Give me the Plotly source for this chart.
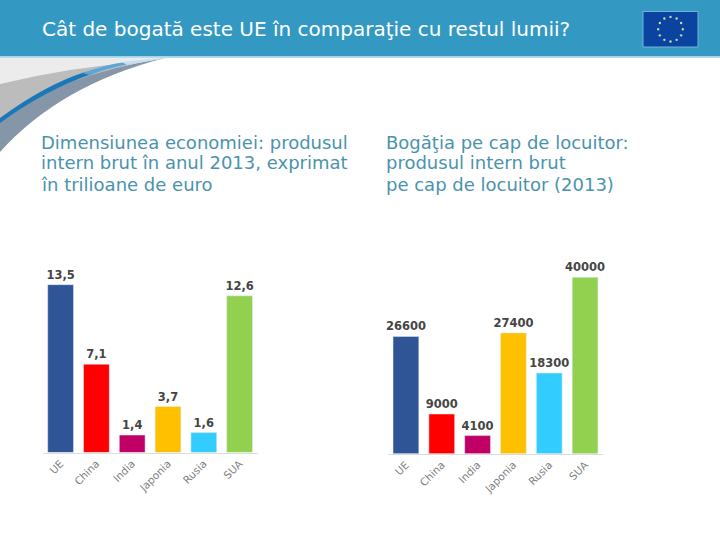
import math
import plotly.graph_objects as go
from plotly.subplots import make_subplots

W, H = 720, 540

categories = ["UE", "China", "India", "Japonia", "Rusia", "SUA"]
gdp_trillions = [13.5, 7.1, 1.4, 3.7, 1.6, 12.6]
gdp_per_capita = [26600, 9000, 4100, 27400, 18300, 40000]
bar_colors = ["#2f5597", "#ff0000", "#c00066", "#ffc000", "#33ccff", "#92d050"]

title_text = "Cât de bogată este UE în comparaţie cu restul lumii?"
left_lines = ["Dimensiunea economiei: produsul", "intern brut în anul 2013, exprimat", "în trilioane de euro"]
right_lines = ["Bogăţia pe cap de locuitor:", "produsul intern brut", "pe cap de locuitor (2013)"]

FONT = "DejaVu Sans"


def fx(px):
    return px / W


def fy(py):
    return 1 - py / H


def path(cmds):
    out = []
    for c in cmds:
        letter, pts = c[0], c[1:]
        out.append(letter + " " + " ".join(f"{fx(x):.5f},{fy(y):.5f}" for x, y in pts))
    return " ".join(out) + " Z"


def deco(cmds, color):
    return dict(type="path", xref="paper", yref="paper", path=path(cmds),
                fillcolor=color, line_width=0, layer="below")


def box(x0, y0, x1, y1, color, line=None):
    return dict(type="rect", xref="paper", yref="paper", x0=fx(x0), x1=fx(x1), y0=fy(y1), y1=fy(y0),
                fillcolor=color, line=dict(color=line or color, width=1 if line else 0), layer="below")


shapes = [
    # slide header
    box(0, 0, 720, 56.5, "#3399c3"),
    box(0, 56.5, 720, 58, "#b5dcea"),
    # swoosh
    deco([("M", (0, 58)), ("L", (170, 58)), ("Q", (120, 62), (0, 84))], "#ececec"),
    deco([("M", (0, 84)), ("Q", (70, 67), (140, 62)), ("Q", (50, 85), (0, 120))], "#bcbcbc"),
    deco([("M", (0, 120)), ("Q", (60, 75), (165, 58)), ("Q", (60, 85), (0, 152))], "#8596a8"),
    deco([("M", (0, 118)), ("Q", (45, 85), (85, 72)), ("L", (92, 74)), ("Q", (45, 90), (0, 123))], "#1b78b8"),
    deco([("M", (82, 73)), ("Q", (105, 65), (125, 62)), ("L", (128, 64)), ("Q", (108, 68), (90, 75))], "#5ba6d6"),
    deco([("M", (122, 62)), ("Q", (145, 59), (168, 58)), ("Q", (148, 61), (127, 65))], "#c5dff0"),
    # flag
    box(643, 11.5, 698, 47, "#0a44a0", "#6fb5dc"),
]
star_cx, star_cy, star_r = 670.5, 29.2, 12.3
for i in range(12):
    a = 2 * math.pi * i / 12
    sx, sy = star_cx + star_r * math.sin(a), star_cy - star_r * math.cos(a)
    shapes.append(dict(type="circle", xref="paper", yref="paper",
                       x0=fx(sx - 1.2), x1=fx(sx + 1.2), y0=fy(sy + 1.2), y1=fy(sy - 1.2),
                       fillcolor="#c8dca0", line_width=0, layer="below"))

fig = make_subplots(rows=1, cols=2)

label_font = dict(family=FONT, size=11.5, color="#454545", weight="bold")
fig.add_trace(go.Bar(x=categories, y=gdp_trillions, marker_color=bar_colors,
                     text=[f"{v:.1f}".replace(".", ",") for v in gdp_trillions],
                     textposition="outside", cliponaxis=False, constraintext="none",
                     textfont=label_font, showlegend=False), row=1, col=1)
fig.add_trace(go.Bar(x=categories, y=gdp_per_capita, marker_color=bar_colors,
                     text=[str(v) for v in gdp_per_capita],
                     textposition="outside", cliponaxis=False, constraintext="none",
                     textfont=label_font, showlegend=False), row=1, col=2)

axis_common = dict(showgrid=False, showline=True, linecolor="#dcdcdc", linewidth=1, ticks="",
                   tickangle=-45, tickfont=dict(family=FONT, size=10.5, color="#808080"))
fig.update_xaxes(domain=[fx(42.7), fx(257.5)], **axis_common, row=1, col=1)
fig.update_xaxes(domain=[fx(388), fx(603)], **axis_common, row=1, col=2)
fig.update_yaxes(visible=False, range=[0, 15], domain=[fy(452.5), fy(266)], row=1, col=1)
fig.update_yaxes(visible=False, range=[0, 44000], domain=[fy(453.7), fy(259.7)], row=1, col=2)

annotations = [dict(text=title_text, x=fx(40), y=fy(28.5), xref="paper", yref="paper", xanchor="left",
                    yanchor="middle", showarrow=False,
                    font=dict(family=FONT, size=20, color="#ffffff"))]
for lines, left in ((left_lines, 39), (right_lines, 384)):
    for line, ypx in zip(lines, (142, 163, 185)):
        annotations.append(dict(text=line, x=fx(left), y=fy(ypx), xref="paper", yref="paper",
                                xanchor="left", yanchor="middle", showarrow=False,
                                font=dict(family=FONT, size=18, color="#4a93ad")))

fig.update_layout(width=W, height=H, margin=dict(l=0, r=0, t=0, b=0), bargap=0.28,
                  plot_bgcolor="#ffffff", paper_bgcolor="#ffffff", shapes=shapes,
                  annotations=annotations, showlegend=False, font=dict(family=FONT))
fig.write_html("out.html", config=dict(displayModeBar=False),
               post_script="document.body.style.margin='0';")
